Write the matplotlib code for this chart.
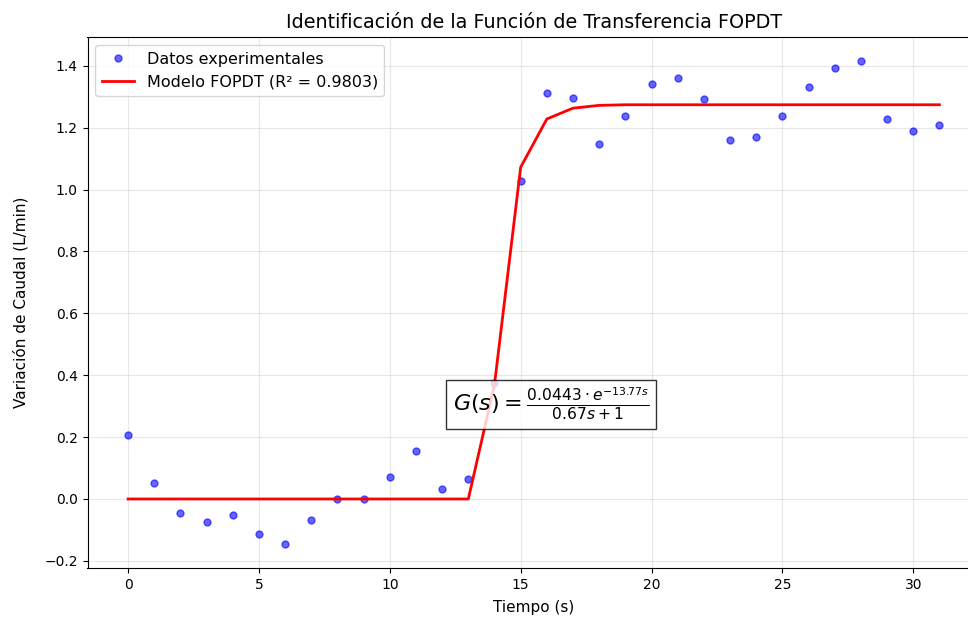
import matplotlib
matplotlib.use('Agg')
import matplotlib.pyplot as plt
import numpy as np

# Tiempo (s)
t = np.arange(0, 32)

y_exp = [0.207, 0.051, -0.046, -0.075, -0.053, -0.112, -0.146, -0.068,
         -0.001, -0.001, 0.070, 0.155, 0.032, 0.063, 0.375, 1.029,
         1.312, 1.297, 1.148, 1.238, 1.342, 1.359, 1.294, 1.160,
         1.171, 1.238, 1.330, 1.393, 1.414, 1.227, 1.190, 1.208]

# Modelo FOPDT evaluado en los mismos instantes
y_model = [0.0] * 14 + [0.370, 1.072, 1.228, 1.263, 1.272] + [1.274] * 13

R2 = 0.9803
EQ = r'$G(s) = \frac{0.0443 \cdot e^{-13.77s}}{0.67s + 1}$'

fig = plt.figure(figsize=(9.68, 6.2), dpi=100)
# el original esta recortado por la derecha: el eje sobresale del lienzo
ax = fig.add_axes([87.5 / 968, 51.7 / 620, 892.5 / 968, 531.0 / 620])

ax.plot(t, y_exp, 'o', color='blue', alpha=0.6, markersize=5,
        label='Datos experimentales')
ax.plot(t, y_model, '-', color='red', linewidth=2,
        label=f'Modelo FOPDT (R² = {R2:.4f})')

ax.text(16.17, 0.306, EQ, fontsize=16, ha='center', va='center',
        bbox=dict(boxstyle='square,pad=0.3', facecolor='white',
                  edgecolor='black', alpha=0.8))

ax.set_title('Identificación de la Función de Transferencia FOPDT', fontsize=13.8, pad=7)
ax.set_xlabel('Tiempo (s)', fontsize=11, labelpad=5.5)
ax.set_ylabel('Variación de Caudal (L/min)', fontsize=11, labelpad=11)
ax.legend(loc='upper left', fontsize=11.5)
ax.grid(True, alpha=0.3)

fig.savefig('out.png', dpi=100)
